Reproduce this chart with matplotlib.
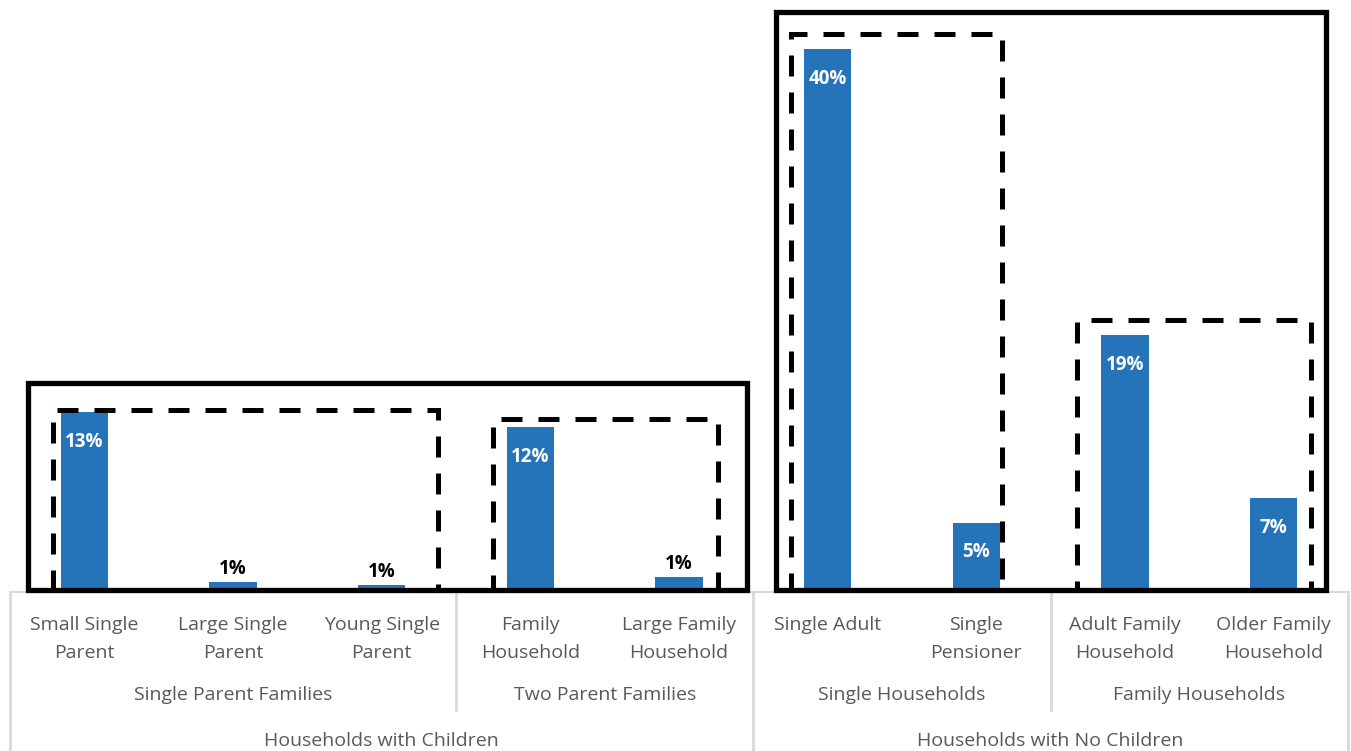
import matplotlib
matplotlib.use("Agg")
import matplotlib.pyplot as plt
from matplotlib.patches import Rectangle
from matplotlib import transforms

# ---- data ----
categories = ["Small Single\nParent", "Large Single\nParent", "Young Single\nParent",
              "Family\nHousehold", "Large Family\nHousehold",
              "Single Adult\n ", "Single\nPensioner",
              "Adult Family\nHousehold", "Older Family\nHousehold"]
values = [13.2, 0.6, 0.4, 12.1, 1.0, 40.1, 5.0, 18.9, 6.8]
value_labels = ["13%", "1%", "1%", "12%", "1%", "40%", "5%", "19%", "7%"]

subgroups = ["Single Parent Families", "Two Parent Families", "Single Households", "Family Households"]
subgroup_spans = [(0, 2), (3, 4), (5, 6), (7, 8)]
groups = ["Households with Children", "Households with No Children"]
group_spans = [(0, 4), (5, 8)]

# annotation boxes: (x_start, x_end, top) in data units
solid_boxes = [(-0.38, 4.46, 15.3), (4.65, 8.35, 42.8)]
dashed_boxes = [(-0.21, 2.38, 13.3), (2.75, 4.26, 12.7), (4.75, 6.17, 41.2), (6.68, 8.25, 20.0)]

BAR = "#2574B9"
GRID = "#D9D9D9"
TXT = "#595959"

W, H = 1351, 751
fig = plt.figure(figsize=(W / 100, H / 100), dpi=100)
ax_left, ax_right, ax_bot, ax_top = 10, 1348, 590, 0
ax = fig.add_axes([ax_left / W, 1 - ax_bot / H, (ax_right - ax_left) / W, (ax_bot - ax_top) / H])
n = len(values)
ax.set_xlim(-0.5, n - 0.5)
ax.set_ylim(0, (ax_bot - ax_top) / 13.5)
ax.axis("off")

x = list(range(n))
bars = ax.bar(x, values, width=0.32, color=BAR, zorder=2)

lab_font = dict(family=["Open Sans", "DejaVu Sans"], fontsize=13.5, fontweight="bold")
for xi, v, lab in zip(x, values, value_labels):
    if v >= 3:
        ax.annotate(lab, (xi, v), xytext=(0, -21.5), textcoords="offset points",
                    ha="center", va="center", color="white", zorder=4, **lab_font)
    else:
        ax.annotate(lab, (xi, v), xytext=(0, 9), textcoords="offset points",
                    ha="center", va="center", color="black", zorder=4, **lab_font)

# boxes
for x0, x1, top in solid_boxes:
    ax.add_patch(Rectangle((x0, 0), x1 - x0, top, fill=False, lw=3.8, ec="black",
                           zorder=3, clip_on=False, joinstyle="miter"))
for x0, x1, top in dashed_boxes:
    ax.add_patch(Rectangle((x0, 0), x1 - x0, top, fill=False, lw=3.6, ec="black",
                           ls=(0, (4.2, 3.2)), zorder=3, clip_on=False))

# multi-level category axis
tr = transforms.blended_transform_factory(ax.transData, fig.transFigure)
def fy(py):
    return 1 - py / H

cat_font = dict(family=["Open Sans", "DejaVu Sans"], fontsize=14, color=TXT)
ax.plot([-0.5, n - 0.5], [fy(592), fy(592)], color=GRID, lw=1.5, transform=tr, clip_on=False, zorder=1)
for xi, c in zip(x, categories):
    l1, l2 = c.split("\n")
    ax.text(xi, fy(625), l1, ha="center", va="center", transform=tr, **cat_font)
    ax.text(xi, fy(653), l2, ha="center", va="center", transform=tr, **cat_font)
for name, (a, b) in zip(subgroups, subgroup_spans):
    ax.text((a + b) / 2, fy(695), name, ha="center", va="center", transform=tr, **cat_font)
for name, (a, b) in zip(groups, group_spans):
    ax.text((a + b) / 2, fy(741), name, ha="center", va="center", transform=tr, **cat_font)

# separators
grp_inner = [b + 0.5 for a, b in group_spans[:-1]]
sub_bounds = [b + 0.5 for a, b in subgroup_spans[:-1] if (b + 0.5) not in grp_inner]
grp_bounds = [-0.5] + grp_inner + [n - 0.5]
for xb in sub_bounds:
    ax.plot([xb, xb], [fy(592), fy(710)], color=GRID, lw=2, transform=tr, clip_on=False)
for xb in grp_bounds:
    ax.plot([xb, xb], [fy(592), fy(751)], color=GRID, lw=2, transform=tr, clip_on=False)

fig.savefig("out.png", dpi=100, facecolor="white")
